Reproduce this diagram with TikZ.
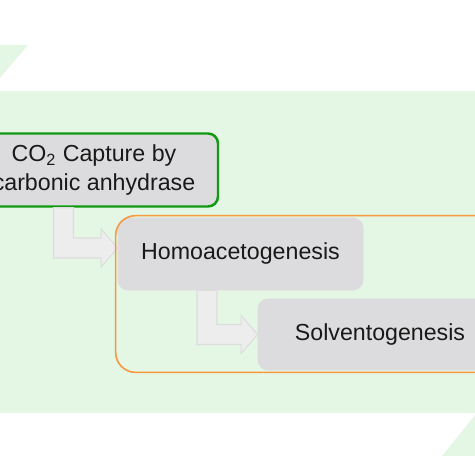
\documentclass[tikz,border=0pt]{standalone}
\usepackage{fontspec}
\setmainfont{Liberation Sans}
\usetikzlibrary{calc,fit}

\definecolor{bandgreen}{HTML}{E4F6E4}
\definecolor{boxgrey}{HTML}{DCDCDE}
\definecolor{capgreen}{HTML}{119A11}
\definecolor{grouporange}{HTML}{F7993F}
\definecolor{arrfill}{HTML}{EDEDED}
\definecolor{arredge}{HTML}{DDDDDD}

% bent block arrow: stem top (#1) down, then right to the tip (#2)
\newcommand{\bendarrow}[2]{%
  \draw[flowarr] let \p1=(#1), \p2=(#2) in
    (\x1-0.2cm,\y1) -- (\x1-0.2cm,\y2-0.2cm) -- (\x2-0.33cm,\y2-0.2cm)
    -- (\x2-0.33cm,\y2-0.38cm) -- (\x2,\y2) -- (\x2-0.33cm,\y2+0.38cm)
    -- (\x2-0.33cm,\y2+0.2cm) -- (\x1+0.2cm,\y2+0.2cm) -- (\x1+0.2cm,\y1) -- cycle;}

\begin{document}
\begin{tikzpicture}[
  box/.style={rectangle, rounded corners=0.2cm, fill=boxgrey, draw=boxgrey,
              text=black!90, font=\fontsize{13.2}{17}\selectfont,
              align=center, inner sep=0pt},
  capbox/.style={box, draw=capgreen, line width=1.4pt},
  groupbox/.style={rectangle, rounded corners=0.4cm, draw=grouporange,
                   line width=0.9pt, inner sep=0.04cm},
  flowarr/.style={fill=arrfill, draw=arredge, line width=0.6pt}
]
\useasboundingbox (0,0) rectangle (9.5,9.5);
\clip (0,0) rectangle (9.5,9.5);

%% ---- background band and corner wedges ----
\fill[bandgreen] (0,1.24) rectangle (9.5,7.68);
\fill[bandgreen] (0,8.6) -- (0.56,8.6) -- (0,7.94) -- cycle;
\fill[bandgreen] (8.84,0.38) -- (9.5,0.38) -- (9.5,1.2) -- cycle;

%% ---- steps ----
\node[capbox, minimum width=4.96cm, minimum height=1.46cm] (co2) at (1.88, 6.1)
     {CO\textsubscript{2} Capture by\\carbonic anhydrase};
\node[box, minimum width=4.9cm, minimum height=1.44cm]  (homo)    at (4.81, 4.42)
     {Homoacetogenesis};
\node[box, minimum width=4.88cm, minimum height=1.42cm] (solvent) at (7.6, 2.81)
     {Solventogenesis};

%% ---- flow arrows ----
\bendarrow{[xshift=-0.61cm]co2.south}{[yshift=0.12cm]homo.west}
\bendarrow{[xshift=-0.67cm]homo.south}{solvent.west}

%% ---- fermentation group ----
\node[groupbox, fit=(homo)(solvent)] (ferment) {};

\end{tikzpicture}
\end{document}
